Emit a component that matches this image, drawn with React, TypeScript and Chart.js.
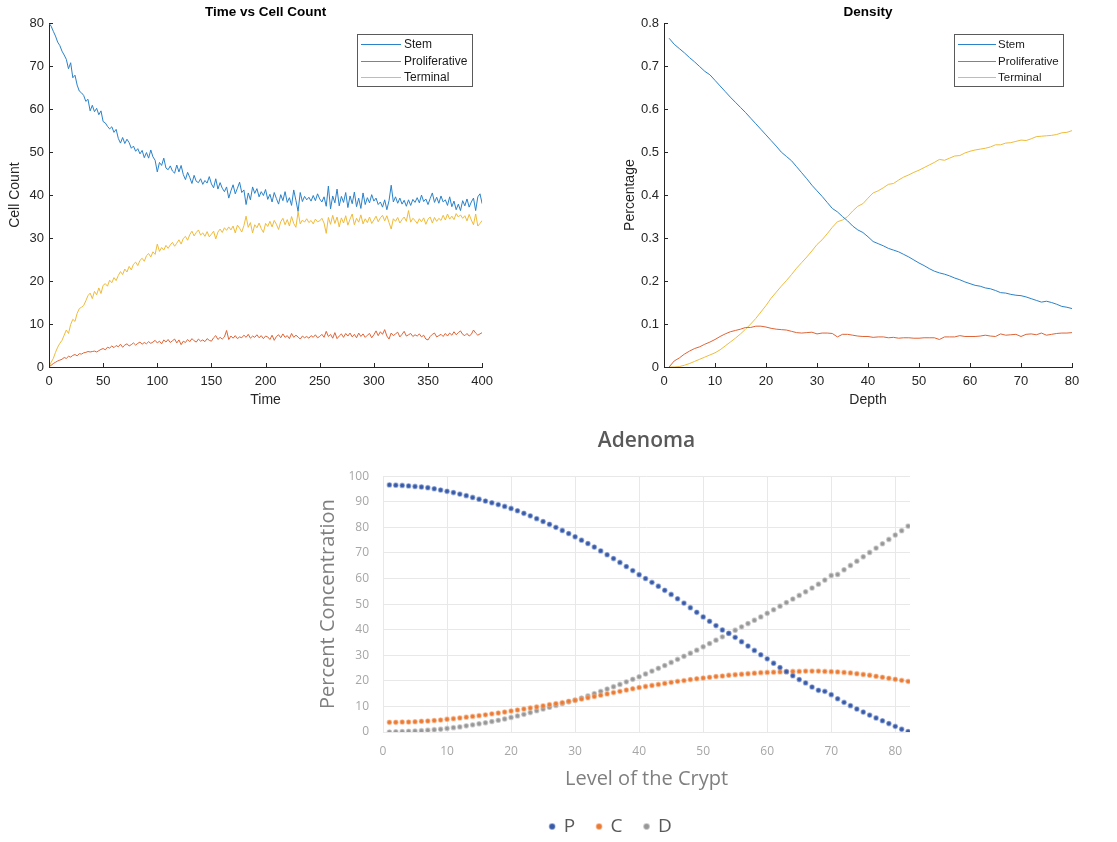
import React, { useEffect, useRef } from 'react';
import { Chart, registerables } from 'chart.js';

Chart.register(...registerables);

const MATLAB_FONT = "'Liberation Sans', Arial, Helvetica, sans-serif";
const EXCEL_FONT = "'Open Sans', 'Noto Sans', sans-serif";

// ---------- Chart 1: Time vs Cell Count (t = 0, 2, 4, ... 400) ----------
const TIME_STEP = 2;
const timeTicks = [0, 50, 100, 150, 200, 250, 300, 350, 400];

const stemCount = [
  80.0, 79.3, 78.1, 77.0, 75.6, 74.8, 73.5, 72.6, 71.6, 69.4,
  70.8, 67.3, 67.9, 65.6, 64.2, 63.8, 63.2, 61.8, 62.3, 59.6,
  60.9, 59.4, 60.2, 58.7, 59.6, 57.1, 56.8, 56.0, 55.4, 55.9,
  54.6, 55.3, 53.2, 52.1, 53.4, 52.0, 53.0, 52.2, 50.9, 51.4,
  50.2, 50.8, 49.6, 50.4, 48.7, 49.9, 48.6, 50.5, 48.9, 48.1,
  45.4, 47.6, 46.9, 48.6, 46.3, 45.9, 46.8, 45.6, 45.1, 47.0,
  45.4, 46.9, 44.8, 43.6, 45.3, 44.1, 42.7, 44.6, 43.2, 42.9,
  43.8, 42.5, 43.4, 42.8, 44.3, 42.6, 41.7, 43.8, 41.4, 42.9,
  41.6, 40.8, 41.9, 39.3, 41.0, 42.4, 40.3, 41.6, 43.0, 40.6,
  41.2, 37.8, 40.5, 38.9, 41.9, 40.4, 41.5, 39.6, 40.8, 39.9,
  41.3, 39.0, 40.2, 38.4, 40.6, 39.2, 37.9, 40.1, 38.7, 40.8,
  38.3, 39.4, 37.6, 41.2, 38.8, 36.2, 40.6, 38.5, 39.7, 38.9,
  39.5, 38.6, 39.9, 38.7, 40.3, 39.1, 38.4, 39.6, 37.4, 42.1,
  36.8, 39.8, 38.2, 41.4, 37.5, 39.7, 38.3, 40.6, 37.1, 39.8,
  38.0, 40.7, 37.3, 39.3, 36.9, 40.5, 37.8, 39.4, 38.2, 40.1,
  38.6, 39.3, 37.8, 38.4, 37.2, 38.9, 36.6, 38.7, 42.3, 38.4,
  39.6, 38.1, 39.3, 37.9, 38.8, 37.4, 38.9, 37.6, 39.0, 38.3,
  39.4, 38.2, 40.0, 38.5, 39.1, 37.8, 39.2, 40.5, 38.3, 39.5,
  38.1, 39.8, 38.4, 38.9, 37.6, 39.6, 37.3, 38.6, 36.6, 37.9,
  36.4, 38.7, 37.5, 39.1, 37.2, 38.4, 39.3, 36.4, 39.6, 40.3,
  38.0,
];

const prolifCount = [
  0.0, 0.4, 0.8, 1.1, 1.4, 1.6, 1.8, 2.2, 2.0, 2.5,
  2.3, 2.7, 2.9, 2.6, 3.1, 3.0, 3.3, 3.4, 3.6, 3.5,
  3.6, 3.7, 3.5, 3.8, 4.1, 4.3, 4.0, 4.6, 4.4, 4.9,
  4.5, 5.0, 4.7, 5.3, 4.6, 5.1, 5.4, 4.9, 5.2, 5.6,
  5.1, 5.5, 5.8, 5.3, 5.7, 5.4, 5.9, 5.5, 5.8, 6.2,
  5.6, 6.0, 5.4, 6.3, 5.8, 6.4, 5.7, 6.1, 6.5, 5.6,
  6.3, 5.2, 6.0, 5.7, 6.4, 5.9, 6.6, 6.1, 5.8, 6.5,
  6.0, 6.3, 5.9, 6.6, 6.2, 6.0, 6.8, 7.3, 6.4, 6.9,
  6.5, 7.0, 8.5, 6.4, 7.2, 6.7, 7.3, 6.6, 7.0, 6.8,
  7.4, 6.9, 7.6, 6.7, 7.2, 6.9, 7.5, 6.8, 7.3, 6.6,
  7.2, 7.0, 6.4, 7.4, 6.2, 7.1, 7.5, 6.8, 7.7, 6.9,
  7.3, 6.6, 7.8, 6.9, 7.4, 7.0, 6.5, 7.2, 6.8, 7.1,
  6.7, 7.3, 6.9, 7.5, 6.8, 7.1, 7.6, 6.9, 8.3, 7.1,
  7.6, 6.7, 8.0, 6.6, 7.2, 7.7, 6.9, 7.8, 7.2, 7.9,
  7.0, 7.6, 6.8, 7.9, 7.1, 7.7, 6.9, 7.4, 7.8, 6.8,
  7.5, 8.4, 7.3, 8.2, 7.6, 8.7, 7.2, 6.5, 7.9, 7.3,
  7.7, 8.1, 7.0, 7.6, 8.3, 7.2, 7.5, 7.8, 7.1, 7.5,
  7.2, 7.7, 7.0, 7.4, 6.5, 6.3, 7.1, 7.6, 7.9, 7.0,
  7.3, 7.6, 7.1, 7.8, 7.2, 7.9, 7.4, 8.2, 7.5, 8.0,
  8.4, 7.6, 7.3, 7.8, 7.2, 7.6, 8.6, 7.9, 7.4, 7.7,
  8.0,
];

const terminalCount = [
  0.0, 1.1, 2.0, 3.4, 4.6, 5.5, 6.2, 7.4, 8.6, 7.8,
  9.9, 11.1, 10.6, 12.5, 13.6, 13.9, 14.3, 15.4, 16.6, 17.2,
  15.9, 17.6, 16.8, 18.4, 17.1, 19.0, 19.4, 18.8, 20.2, 19.6,
  20.8, 20.1, 21.3, 22.2, 21.5, 22.8, 22.1, 23.4, 22.6, 23.9,
  24.4, 23.6, 24.8, 25.3, 24.6, 25.9, 26.4, 25.6, 26.8, 26.2,
  28.6, 26.9, 27.8, 27.2, 28.3, 27.6, 28.4, 29.0, 28.1, 28.8,
  29.6, 28.6, 29.9, 30.4, 29.5, 30.8, 31.6, 30.5, 31.3, 31.9,
  30.7, 31.2, 30.4, 31.5, 30.3, 30.9, 31.6, 29.8, 31.4, 32.1,
  31.3, 32.4, 31.8, 32.6, 31.9, 32.8, 31.2, 33.0, 32.3, 31.4,
  32.9, 35.1, 32.5, 33.6, 31.2, 33.1, 32.4, 33.5, 32.2, 31.3,
  33.4, 32.7, 33.9, 32.6, 34.1, 33.2, 32.0, 33.8, 34.6, 33.1,
  34.3, 32.8, 35.0, 33.4, 32.5, 36.1, 33.3, 34.2, 33.7, 34.5,
  33.6, 34.1, 33.3, 34.4, 33.8, 34.0, 34.6, 33.5, 31.1, 34.8,
  33.2, 35.3, 33.4, 34.9, 32.6, 34.7, 33.5, 35.2, 33.0, 34.4,
  35.6, 33.1, 34.6, 33.7, 35.4, 33.3, 34.5, 33.6, 34.9, 33.4,
  34.2, 35.1, 33.8, 34.7, 35.3, 34.0, 35.2, 33.6, 32.1, 34.5,
  33.9, 34.8, 33.5, 34.3, 34.9, 33.9, 36.4, 33.7, 34.6, 34.1,
  33.4, 34.5, 33.8, 34.7, 33.2, 34.4, 34.9, 33.5, 34.8, 33.9,
  34.6, 34.1, 35.3, 34.2, 35.6, 34.4, 35.1, 34.3, 35.7, 34.9,
  35.4, 34.6, 35.2, 34.0, 35.5, 34.2, 33.1, 35.6, 32.8, 33.4,
  34.1,
];

// ---------- Chart 2: Density (depth = 1 ... 80) ----------
const stemDensity = [
  0.765, 0.751, 0.741, 0.731, 0.720, 0.710, 0.699, 0.688, 0.680, 0.667,
  0.654, 0.641, 0.628, 0.616, 0.604, 0.592, 0.579, 0.566, 0.553, 0.540,
  0.527, 0.514, 0.500, 0.490, 0.480, 0.466, 0.452, 0.438, 0.423, 0.410,
  0.397, 0.383, 0.369, 0.361, 0.350, 0.340, 0.328, 0.319, 0.313, 0.303,
  0.292, 0.287, 0.282, 0.276, 0.272, 0.268, 0.262, 0.256, 0.249, 0.242,
  0.236, 0.229, 0.223, 0.219, 0.216, 0.212, 0.207, 0.203, 0.198, 0.194,
  0.190, 0.188, 0.184, 0.182, 0.178, 0.173, 0.172, 0.169, 0.167, 0.166,
  0.163, 0.159, 0.155, 0.151, 0.153, 0.150, 0.146, 0.141, 0.139, 0.136,
];

const prolifDensity = [
  0.000, 0.014, 0.021, 0.030, 0.037, 0.043, 0.047, 0.053, 0.058, 0.064,
  0.071, 0.077, 0.082, 0.085, 0.088, 0.092, 0.092, 0.095, 0.095, 0.093,
  0.090, 0.088, 0.087, 0.086, 0.083, 0.080, 0.079, 0.080, 0.081, 0.077,
  0.079, 0.079, 0.078, 0.070, 0.076, 0.076, 0.074, 0.072, 0.071, 0.071,
  0.069, 0.070, 0.070, 0.068, 0.069, 0.067, 0.068, 0.068, 0.067, 0.067,
  0.068, 0.068, 0.068, 0.064, 0.070, 0.070, 0.070, 0.073, 0.071, 0.071,
  0.071, 0.072, 0.074, 0.072, 0.071, 0.077, 0.074, 0.075, 0.076, 0.071,
  0.076, 0.077, 0.075, 0.079, 0.074, 0.076, 0.078, 0.079, 0.079, 0.080,
];

const terminalDensity = [
  0.000, 0.000, 0.001, 0.004, 0.008, 0.013, 0.018, 0.023, 0.028, 0.033,
  0.040, 0.049, 0.058, 0.067, 0.077, 0.088, 0.100, 0.113, 0.128, 0.143,
  0.160, 0.174, 0.188, 0.201, 0.215, 0.230, 0.243, 0.256, 0.270, 0.285,
  0.296, 0.310, 0.325, 0.338, 0.342, 0.350, 0.363, 0.374, 0.380, 0.393,
  0.405, 0.410, 0.417, 0.425, 0.427, 0.435, 0.442, 0.447, 0.453, 0.458,
  0.464, 0.470, 0.476, 0.483, 0.481, 0.486, 0.491, 0.492, 0.498, 0.502,
  0.505, 0.507, 0.509, 0.512, 0.517, 0.517, 0.521, 0.522, 0.525, 0.528,
  0.527, 0.531, 0.536, 0.537, 0.538, 0.539, 0.541, 0.545, 0.546, 0.550,
];

// ---------- Chart 3: Adenoma (level = 1 ... 82) ----------
const levelTicks = [0, 10, 20, 30, 40, 50, 60, 70, 80];

const adenomaP = [
  96.6, 96.5, 96.4, 96.2, 96.0, 95.8, 95.5, 95.1, 94.6, 94.1,
  93.6, 93.0, 92.4, 91.7, 91.0, 90.3, 89.6, 88.9, 88.2, 87.4,
  86.5, 85.5, 84.5, 83.4, 82.3, 81.2, 80.0, 78.8, 77.6, 76.3,
  75.0, 73.7, 72.3, 70.8, 69.3, 67.8, 66.3, 64.7, 63.1, 61.5,
  60.0, 58.5, 57.0, 55.4, 53.8, 52.1, 50.4, 48.6, 46.8, 45.0,
  43.3, 41.6, 39.9, 38.6, 37.0, 35.3, 33.6, 31.9, 30.2, 28.6,
  26.9, 25.2, 23.6, 22.0, 20.5, 19.2, 17.6, 16.3, 15.9, 14.6,
  13.0, 11.6, 10.3, 9.0, 7.8, 6.6, 5.5, 4.4, 3.3, 2.2,
  1.1, 0.2,
];

const adenomaC = [
  3.8, 3.8, 3.9, 3.9, 4.0, 4.2, 4.3, 4.5, 4.7, 5.0,
  5.2, 5.5, 5.8, 6.1, 6.4, 6.7, 7.1, 7.4, 7.8, 8.2,
  8.6, 9.0, 9.4, 9.8, 10.2, 10.7, 11.1, 11.5, 12.0, 12.4,
  12.9, 13.4, 13.9, 14.4, 14.9, 15.4, 15.9, 16.4, 16.9, 17.4,
  17.8, 18.2, 18.6, 19.0, 19.4, 19.8, 20.1, 20.5, 20.8, 21.1,
  21.4, 21.7, 21.9, 22.2, 22.4, 22.6, 22.8, 23.0, 23.2, 23.3,
  23.4, 23.5, 23.6, 23.7, 23.7, 23.8, 23.8, 23.8, 23.7, 23.6,
  23.5, 23.3, 23.1, 22.8, 22.5, 22.2, 21.8, 21.4, 21.0, 20.6,
  20.2, 19.8,
];

const adenomaD = [
  0.0, 0.1, 0.2, 0.3, 0.4, 0.5, 0.7, 0.9, 1.1, 1.4,
  1.7, 2.0, 2.4, 2.8, 3.2, 3.6, 4.1, 4.6, 5.1, 5.7,
  6.3, 6.9, 7.6, 8.3, 9.0, 9.7, 10.4, 11.1, 11.8, 12.5,
  13.3, 14.1, 15.0, 15.9, 16.8, 17.7, 18.6, 19.6, 20.6, 21.6,
  22.7, 23.8, 24.9, 26.0, 27.2, 28.4, 29.6, 30.8, 32.0, 33.3,
  34.6, 35.9, 37.2, 38.5, 39.8, 41.1, 42.4, 43.7, 45.0, 46.4,
  47.8, 49.2, 50.6, 52.0, 53.4, 54.8, 56.3, 57.8, 59.4, 61.2,
  61.6, 63.4, 65.1, 66.8, 68.5, 70.2, 71.9, 73.6, 75.3, 77.0,
  78.7, 80.5,
];

const seriesNames = ['Stem', 'Proliferative', 'Terminal'];
const seriesColors = ['#2a82c9', '#de6436', '#efbb3a'];
const adenomaNames = ['P', 'C', 'D'];

const toTimePoints = (vals: number[]) => vals.map((v, i) => ({ x: i * TIME_STEP, y: v }));
const toLevelPoints = (vals: number[]) => vals.map((v, i) => ({ x: i + 1, y: v }));

// MATLAB-style inward tick marks
const inwardTicks = {
  id: 'inwardTicks',
  afterDatasetsDraw(chart: any) {
    const { ctx, chartArea, scales } = chart;
    ctx.save();
    ctx.strokeStyle = '#262626';
    ctx.lineWidth = 1;
    scales.x.ticks.forEach((t: any) => {
      const px = Math.round(scales.x.getPixelForValue(t.value)) + 0.5;
      ctx.beginPath();
      ctx.moveTo(px, chartArea.bottom);
      ctx.lineTo(px, chartArea.bottom - 4);
      ctx.stroke();
    });
    scales.y.ticks.forEach((t: any) => {
      const py = Math.round(scales.y.getPixelForValue(t.value)) + 0.5;
      ctx.beginPath();
      ctx.moveTo(chartArea.left, py);
      ctx.lineTo(chartArea.left + 4, py);
      ctx.stroke();
    });
    ctx.restore();
  },
};

// MATLAB-style boxed legend inside the axes (north-east)
const matlabLegend = {
  id: 'matlabLegend',
  afterDraw(chart: any, _args: any, opts: any) {
    if (!opts || !opts.display) return;
    const { ctx, chartArea } = chart;
    ctx.save();
    ctx.font = `${opts.fontSize}px ${MATLAB_FONT}`;
    const ds = chart.data.datasets;
    const textW = Math.max(...ds.map((d: any) => ctx.measureText(d.label).width));
    const w = Math.round(opts.padLeft + opts.lineLen + opts.gap + textW + opts.padRight);
    const h = opts.height;
    const x = Math.round(chartArea.right - opts.right - w);
    const y = Math.round(chartArea.top + opts.top);
    ctx.fillStyle = '#ffffff';
    ctx.fillRect(x, y, w, h);
    ctx.strokeStyle = '#5a5a5a';
    ctx.lineWidth = 1;
    ctx.strokeRect(x + 0.5, y + 0.5, w, h);
    ds.forEach((d: any, i: number) => {
      const cy = Math.round(y + opts.firstRow + i * opts.rowGap) + 0.5;
      ctx.strokeStyle = d.borderColor;
      ctx.lineWidth = 1;
      ctx.beginPath();
      ctx.moveTo(x + opts.padLeft, cy);
      ctx.lineTo(x + opts.padLeft + opts.lineLen, cy);
      ctx.stroke();
      ctx.fillStyle = '#1a1a1a';
      ctx.textBaseline = 'middle';
      ctx.textAlign = 'left';
      ctx.fillText(d.label, x + opts.padLeft + opts.lineLen + opts.gap, cy);
    });
    ctx.restore();
  },
};

function matlabConfig(p: {
  title: string;
  xTitle: string;
  yTitle: string;
  xMax: number;
  xStep: number;
  yMax: number;
  yStep: number;
  datasets: any[];
  padLeft: number;
  padRight: number;
  legend: any;
}) {
  return {
    type: 'line',
    data: { datasets: p.datasets },
    plugins: [inwardTicks, matlabLegend],
    options: {
      responsive: false,
      animation: false,
      events: [],
      layout: { padding: { left: p.padLeft, right: p.padRight, top: 0, bottom: 0 } },
      elements: { point: { radius: 0 }, line: { borderWidth: 1, tension: 0 } },
      plugins: {
        legend: { display: false },
        tooltip: { enabled: false },
        title: {
          display: true,
          text: p.title,
          fullSize: false,
          color: '#000000',
          font: { family: MATLAB_FONT, size: 13.5, weight: 'bold' },
          padding: { top: 4, bottom: 3 },
        },
        matlabLegend: p.legend,
      },
      scales: {
        x: {
          type: 'linear',
          min: 0,
          max: p.xMax,
          ticks: {
            stepSize: p.xStep,
            color: '#262626',
            font: { family: MATLAB_FONT, size: 13 },
            padding: 7,
            maxRotation: 0,
          },
          grid: { drawOnChartArea: false, drawTicks: false },
          border: { display: true, color: '#262626', width: 1 },
          title: {
            display: true,
            text: p.xTitle,
            color: '#262626',
            font: { family: MATLAB_FONT, size: 14 },
            padding: { top: 0, bottom: 6 },
          },
          afterFit: (s: any) => {
            s.height = 48;
          },
        },
        y: {
          type: 'linear',
          min: 0,
          max: p.yMax,
          ticks: {
            stepSize: p.yStep,
            color: '#262626',
            font: { family: MATLAB_FONT, size: 13 },
            padding: 5,
          },
          grid: { drawOnChartArea: false, drawTicks: false },
          border: { display: true, color: '#262626', width: 1 },
          title: {
            display: true,
            text: p.yTitle,
            color: '#262626',
            font: { family: MATLAB_FONT, size: 14 },
            padding: { top: 4, bottom: 0 },
          },
          afterFit: (s: any) => {
            s.width = 46;
          },
        },
      },
    },
  };
}

export default function App() {
  const ref1 = useRef<HTMLCanvasElement | null>(null);
  const ref2 = useRef<HTMLCanvasElement | null>(null);
  const ref3 = useRef<HTMLCanvasElement | null>(null);

  useEffect(() => {
    const countSeries = [stemCount, prolifCount, terminalCount];
    const densitySeries = [stemDensity, prolifDensity, terminalDensity];

    const c1 = new Chart(
      ref1.current as HTMLCanvasElement,
      matlabConfig({
        title: 'Time vs Cell Count',
        xTitle: 'Time',
        yTitle: 'Cell Count',
        xMax: timeTicks[timeTicks.length - 1],
        xStep: timeTicks[1] - timeTicks[0],
        yMax: 80,
        yStep: 10,
        padLeft: 3,
        padRight: 17,
        datasets: countSeries.map((vals, i) => ({
          label: seriesNames[i],
          data: toTimePoints(vals),
          borderColor: seriesColors[i],
          backgroundColor: seriesColors[i],
          borderWidth: 1,
          pointRadius: 0,
          fill: false,
        })),
        legend: {
          display: true,
          fontSize: 12,
          right: 10,
          top: 11,
          height: 52,
          padLeft: 4,
          lineLen: 40,
          gap: 3,
          padRight: 5,
          firstRow: 10,
          rowGap: 16.5,
        },
      }) as any
    );

    const c2 = new Chart(
      ref2.current as HTMLCanvasElement,
      matlabConfig({
        title: 'Density',
        xTitle: 'Depth',
        yTitle: 'Percentage',
        xMax: 80,
        xStep: 10,
        yMax: 0.8,
        yStep: 0.1,
        padLeft: 58,
        padRight: 45,
        datasets: densitySeries.map((vals, i) => ({
          label: seriesNames[i],
          data: toLevelPoints(vals),
          borderColor: seriesColors[i],
          backgroundColor: seriesColors[i],
          borderWidth: 1,
          pointRadius: 0,
          fill: false,
        })),
        legend: {
          display: true,
          fontSize: 11.5,
          right: 9,
          top: 11,
          height: 52,
          padLeft: 4,
          lineLen: 38,
          gap: 2,
          padRight: 4,
          firstRow: 10,
          rowGap: 16.5,
        },
      }) as any
    );

    const adenomaSeries = [adenomaP, adenomaC, adenomaD];
    const dotFill = ['#3a5aa6', '#e97b35', '#979797'];
    const dotHalo = ['rgba(110,140,205,0.55)', 'rgba(245,170,120,0.55)', 'rgba(190,190,190,0.6)'];

    const c3 = new Chart(ref3.current as HTMLCanvasElement, {
      type: 'scatter',
      data: {
        datasets: adenomaSeries.map((vals, i) => ({
          label: adenomaNames[i],
          data: toLevelPoints(vals),
          showLine: false,
          pointStyle: 'circle',
          pointRadius: 2.2,
          pointBorderWidth: 1.3,
          pointBackgroundColor: dotFill[i],
          pointBorderColor: dotHalo[i],
          backgroundColor: dotFill[i],
          borderColor: dotHalo[i],
        })),
      },
      options: {
        responsive: false,
        animation: false,
        events: [],
        layout: { padding: { left: 12, right: 30, top: 0, bottom: 0 } },
        plugins: {
          tooltip: { enabled: false },
          title: {
            display: true,
            text: 'Adenoma',
            fullSize: false,
            color: '#595959',
            font: { family: EXCEL_FONT, size: 21, weight: '600' },
            padding: { top: 8, bottom: 23 },
          },
          legend: {
            display: true,
            position: 'bottom',
            labels: {
              usePointStyle: true,
              pointStyle: 'circle',
              boxWidth: 4,
              boxHeight: 4,
              padding: 22,
              color: '#595959',
              font: { family: EXCEL_FONT, size: 19 },
            },
          },
        },
        scales: {
          x: {
            type: 'linear',
            min: 0,
            max: 82.3,
            ticks: {
              color: '#a6a6a6',
              font: { family: EXCEL_FONT, size: 12 },
              padding: 12,
              maxRotation: 0,
              autoSkip: false,
            },
            afterBuildTicks: (s: any) => {
              s.ticks = levelTicks.map((v) => ({ value: v }));
            },
            grid: { color: '#e8e8e8', lineWidth: 1, drawTicks: false },
            border: { display: false },
            title: {
              display: true,
              text: 'Level of the Crypt',
              color: '#7f7f7f',
              font: { family: EXCEL_FONT, size: 20 },
              padding: { top: 0, bottom: 4 },
            },
            afterFit: (s: any) => {
              s.height = 63;
            },
          },
          y: {
            type: 'linear',
            min: 0,
            max: 100,
            ticks: {
              stepSize: 10,
              color: '#a6a6a6',
              font: { family: EXCEL_FONT, size: 12 },
              padding: 14,
            },
            grid: { color: '#e8e8e8', lineWidth: 1, drawTicks: false },
            border: { display: false },
            title: {
              display: true,
              text: 'Percent Concentration',
              color: '#7f7f7f',
              font: { family: EXCEL_FONT, size: 20 },
              padding: { top: 4, bottom: 0 },
            },
            afterFit: (s: any) => {
              s.width = 71;
            },
          },
        },
      },
    } as any);

    return () => {
      c1.destroy();
      c2.destroy();
      c3.destroy();
    };
  }, []);

  return (
    <div
      style={{
        position: 'fixed',
        left: 0,
        top: 0,
        width: 1117,
        height: 842,
        background: '#ffffff',
        overflow: 'hidden',
      }}
    >
      <canvas ref={ref1} width={500} height={415} style={{ position: 'absolute', left: 0, top: 0 }} />
      <canvas ref={ref2} width={557} height={415} style={{ position: 'absolute', left: 560, top: 0 }} />
      <canvas ref={ref3} width={640} height={426} style={{ position: 'absolute', left: 300, top: 420 }} />
    </div>
  );
}
